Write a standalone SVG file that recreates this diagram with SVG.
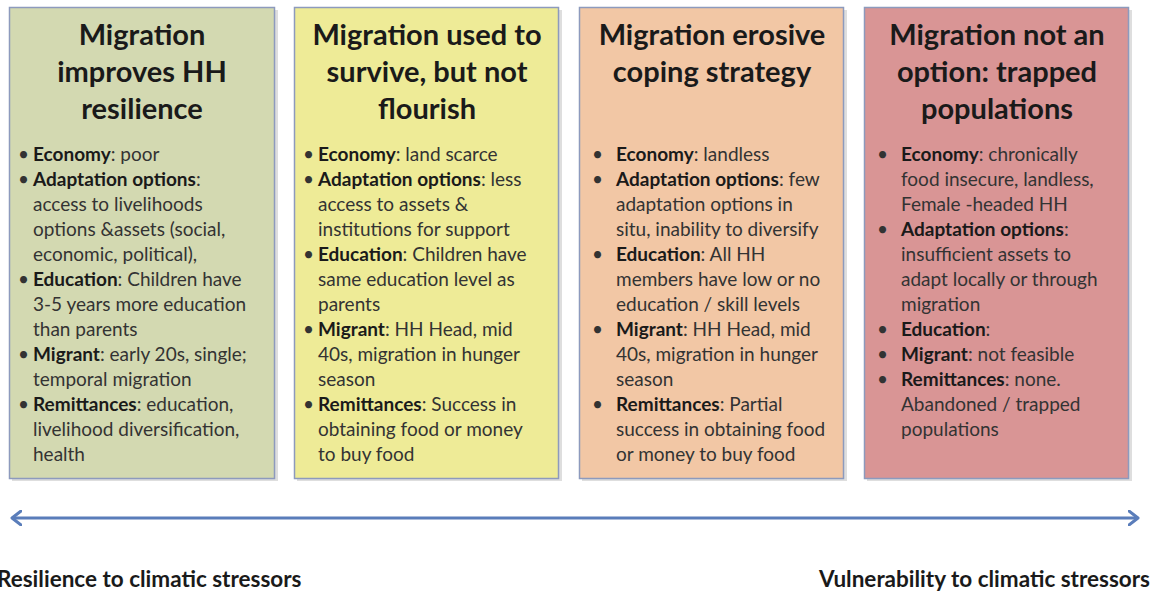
<svg xmlns="http://www.w3.org/2000/svg" width="1154" height="592" viewBox="0 0 1154 592">
<style>
.box{stroke:#8d9abd;stroke-width:1.5}
.shadow{fill:#c8c8c8;opacity:0.6}
.title{font-family:Lato,"Open Sans",sans-serif;font-weight:bold;font-size:29px;fill:#1a1a1a;text-anchor:middle}
.body{font-family:Lato,"Open Sans",sans-serif;font-size:19px;fill:#333}
.body tspan.b{font-weight:bold;fill:#1a1a1a}
.axis{font-family:Lato,"Open Sans",sans-serif;font-weight:bold;font-size:22.5px;fill:#1a1a1a}
</style>
<defs>
<marker id="chev" viewBox="0 0 12 16" refX="10" refY="8" markerWidth="12" markerHeight="16" markerUnits="userSpaceOnUse" orient="auto-start-reverse">
<path d="M1,1 L10,8 L1,15" fill="none" stroke="#5a7dba" stroke-width="3" stroke-linecap="round" stroke-linejoin="round"/>
</marker>
</defs>
<rect width="1154" height="592" fill="#fff"/>

<g id="node1">
<rect class="shadow" x="12" y="10" width="266" height="471"/>
<rect class="box" x="9.5" y="7.5" width="265" height="471" fill="#d3d9b1"/>
<text class="title" x="142" y="45">Migration</text>
<text class="title" x="142" y="82">improves HH</text>
<text class="title" x="142" y="119">resilience</text>
<g class="body">
<text x="18" y="161">•</text>
<text x="33" y="161"><tspan class="b">Economy</tspan>: poor</text>
<text x="18" y="186">•</text>
<text x="33" y="186"><tspan class="b">Adaptation options</tspan>:</text>
<text x="33" y="211">access to livelihoods</text>
<text x="33" y="236">options &amp;assets (social,</text>
<text x="33" y="261">economic, political),</text>
<text x="18" y="286">•</text>
<text x="33" y="286"><tspan class="b">Education</tspan>: Children have</text>
<text x="33" y="311">3-5 years more education</text>
<text x="33" y="336">than parents</text>
<text x="18" y="361">•</text>
<text x="33" y="361"><tspan class="b">Migrant</tspan>: early 20s, single;</text>
<text x="33" y="386">temporal migration</text>
<text x="18" y="411">•</text>
<text x="33" y="411"><tspan class="b">Remittances</tspan>: education,</text>
<text x="33" y="436">livelihood diversification,</text>
<text x="33" y="461">health</text>
</g>
</g>

<g id="node2">
<rect class="shadow" x="297" y="10" width="265" height="471"/>
<rect class="box" x="294.5" y="7.5" width="264" height="471" fill="#eeeb97"/>
<text class="title" x="427" y="45">Migration used to</text>
<text class="title" x="427" y="82">survive, but not</text>
<text class="title" x="427" y="119">flourish</text>
<g class="body">
<text x="303" y="161">•</text>
<text x="318" y="161"><tspan class="b">Economy</tspan>: land scarce</text>
<text x="303" y="186">•</text>
<text x="318" y="186"><tspan class="b">Adaptation options</tspan>: less</text>
<text x="318" y="211">access to assets &amp;</text>
<text x="318" y="236">institutions for support</text>
<text x="303" y="261">•</text>
<text x="318" y="261"><tspan class="b">Education</tspan>: Children have</text>
<text x="318" y="286">same education level as</text>
<text x="318" y="311">parents</text>
<text x="303" y="336">•</text>
<text x="318" y="336"><tspan class="b">Migrant</tspan>: HH Head, mid</text>
<text x="318" y="361">40s, migration in hunger</text>
<text x="318" y="386">season</text>
<text x="303" y="411">•</text>
<text x="318" y="411"><tspan class="b">Remittances</tspan>: Success in</text>
<text x="318" y="436">obtaining food or money</text>
<text x="318" y="461">to buy food</text>
</g>
</g>

<g id="node3">
<rect class="shadow" x="582" y="10" width="265" height="471"/>
<rect class="box" x="579.5" y="7.5" width="264" height="471" fill="#f2c7a5"/>
<text class="title" x="712" y="45">Migration erosive</text>
<text class="title" x="712" y="82">coping strategy</text>
<g class="body">
<text x="592" y="161">•</text>
<text x="616" y="161"><tspan class="b">Economy</tspan>: landless</text>
<text x="592" y="186">•</text>
<text x="616" y="186"><tspan class="b">Adaptation options</tspan>: few</text>
<text x="616" y="211">adaptation options in</text>
<text x="616" y="236">situ, inability to diversify</text>
<text x="592" y="261">•</text>
<text x="616" y="261"><tspan class="b">Education</tspan>: All HH</text>
<text x="616" y="286">members have low  or no</text>
<text x="616" y="311">education / skill levels</text>
<text x="592" y="336">•</text>
<text x="616" y="336"><tspan class="b">Migrant</tspan>: HH Head, mid</text>
<text x="616" y="361">40s, migration in hunger</text>
<text x="616" y="386">season</text>
<text x="592" y="411">•</text>
<text x="616" y="411"><tspan class="b">Remittances</tspan>: Partial</text>
<text x="616" y="436">success in obtaining food</text>
<text x="616" y="461">or money to buy food</text>
</g>
</g>

<g id="node4">
<rect class="shadow" x="867" y="10" width="265" height="471"/>
<rect class="box" x="864.5" y="7.5" width="264" height="471" fill="#d99595"/>
<text class="title" x="997" y="45">Migration not an</text>
<text class="title" x="997" y="82">option: trapped</text>
<text class="title" x="997" y="119">populations</text>
<g class="body">
<text x="877" y="161">•</text>
<text x="901" y="161"><tspan class="b">Economy</tspan>: chronically</text>
<text x="901" y="186">food insecure, landless,</text>
<text x="901" y="211">Female -headed HH</text>
<text x="877" y="236">•</text>
<text x="901" y="236"><tspan class="b">Adaptation options</tspan>:</text>
<text x="901" y="261">insufficient assets to</text>
<text x="901" y="286">adapt locally or through</text>
<text x="901" y="311">migration</text>
<text x="877" y="336">•</text>
<text x="901" y="336"><tspan class="b">Education</tspan>:</text>
<text x="877" y="361">•</text>
<text x="901" y="361"><tspan class="b">Migrant</tspan>:  not feasible</text>
<text x="877" y="386">•</text>
<text x="901" y="386"><tspan class="b">Remittances</tspan>: none.</text>
<text x="901" y="411">Abandoned / trapped</text>
<text x="901" y="436">populations</text>
</g>
</g>

<g id="connectors">
<line x1="12" y1="518" x2="1138" y2="518" stroke="#5a7dba" stroke-width="3" marker-start="url(#chev)" marker-end="url(#chev)"/>
</g>

<text class="axis" x="-3" y="587">Resilience to climatic stressors</text>
<text class="axis" x="1150" y="587" text-anchor="end">Vulnerability to climatic stressors</text>
</svg>
